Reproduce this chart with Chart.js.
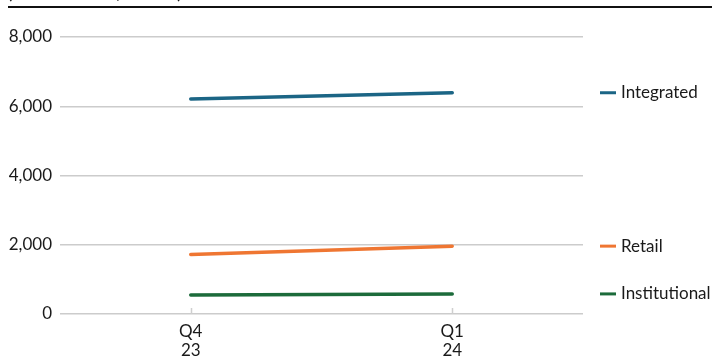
<!DOCTYPE html>
<html>
<head>
<meta charset="utf-8">
<script src="https://cdn.jsdelivr.net/npm/chart.js@4/dist/chart.umd.min.js"></script>
<style>
  html, body { margin: 0; padding: 0; background: #ffffff; }
  #wrap { width: 712px; height: 360px; position: relative; }
</style>
</head>
<body>
<div id="wrap"><canvas id="chart" width="712" height="360"></canvas></div>
<script>
// Quarters on the x axis (two-line labels)
const quarters = [["Q4", "23"], ["Q1", "24"]];

// Segment values per quarter
const integrated = [6210, 6390];
const retail = [1720, 1960];
const institutional = [550, 580];

const yTicks = [0, 2000, 4000, 6000, 8000];
const caption = "(Net revenue in $ millions)";

const FONT = "Lato, 'Source Sans Pro', 'Noto Sans', sans-serif";
const colors = { integrated: "#1b6585", retail: "#ef7632", institutional: "#1c6b3b" };

// Header caption and the black rule beneath it
const headerPlugin = {
  id: "header",
  beforeDraw(chart) {
    const ctx = chart.ctx;
    ctx.save();
    ctx.fillStyle = "#1a1a1a";
    ctx.font = "bold 15px " + FONT;
    ctx.textAlign = "left";
    ctx.textBaseline = "alphabetic";
    ctx.fillText(caption, 8, -1);
    ctx.fillStyle = "#111111";
    ctx.fillRect(8, 6, chart.width - 8, 2);
    ctx.restore();
  }
};

// Short tick marks rising from the baseline at each quarter
const innerTicks = {
  id: "innerTicks",
  afterDatasetsDraw(chart) {
    const { ctx, chartArea, scales } = chart;
    ctx.save();
    ctx.strokeStyle = "#cfcfcf";
    ctx.lineWidth = 1.5;
    quarters.forEach((q, i) => {
      const x = Math.round(scales.x.getPixelForValue(i)) + 0.5;
      ctx.beginPath();
      ctx.moveTo(x, chartArea.bottom - 6);
      ctx.lineTo(x, chartArea.bottom);
      ctx.stroke();
    });
    ctx.restore();
  }
};

// Series names placed beside the last value of each line
const endLabels = {
  id: "endLabels",
  afterDatasetsDraw(chart) {
    const { ctx, chartArea, scales } = chart;
    ctx.save();
    ctx.font = "17px " + FONT;
    ctx.textBaseline = "middle";
    ctx.textAlign = "left";
    chart.data.datasets.forEach(ds => {
      const last = ds.data[ds.data.length - 1];
      const y = scales.y.getPixelForValue(last);
      const x0 = chartArea.right + 17;
      ctx.strokeStyle = ds.borderColor;
      ctx.lineWidth = 3;
      ctx.beginPath();
      ctx.moveTo(x0, y);
      ctx.lineTo(x0 + 16, y);
      ctx.stroke();
      ctx.fillStyle = "#1a1a1a";
      ctx.fillText(ds.label, x0 + 21, y);
    });
    ctx.restore();
  }
};

new Chart(document.getElementById("chart"), {
  type: "line",
  data: {
    labels: quarters,
    datasets: [
      { label: "Integrated", data: integrated, borderColor: colors.integrated },
      { label: "Retail", data: retail, borderColor: colors.retail },
      { label: "Institutional", data: institutional, borderColor: colors.institutional }
    ].map(d => Object.assign(d, {
      borderWidth: 3.5,
      borderCapStyle: "round",
      pointRadius: 0,
      tension: 0,
      fill: false
    }))
  },
  options: {
    responsive: false,
    animation: false,
    events: [],
    layout: { padding: { top: 37, right: 129, bottom: 0, left: 0 } },
    plugins: { legend: { display: false }, tooltip: { enabled: false }, title: { display: false } },
    scales: {
      x: {
        offset: true,
        grid: { display: false },
        border: { display: false },
        ticks: { color: "#1a1a1a", font: { family: FONT, size: 17, lineHeight: 1.1 }, padding: 0, maxRotation: 0 },
        afterFit(s) { s.height = 46; }
      },
      y: {
        min: 0,
        max: 8000,
        afterBuildTicks(s) { s.ticks = yTicks.map(v => ({ value: v })); },
        grid: { color: "#cccccc", lineWidth: 1.5, drawTicks: false },
        border: { display: false },
        ticks: {
          color: "#1a1a1a",
          font: { family: FONT, size: 17 },
          padding: 8,
          callback: v => v.toLocaleString("en-US")
        },
        afterFit(s) { s.width = 60; }
      }
    }
  },
  plugins: [headerPlugin, innerTicks, endLabels]
});
</script>
</body>
</html>
